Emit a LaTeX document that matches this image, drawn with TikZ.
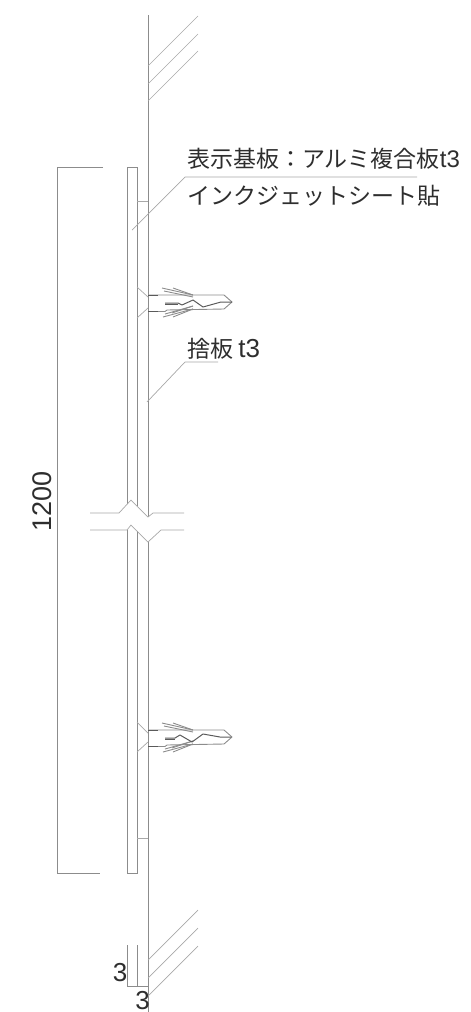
\documentclass[tikz,border=0pt]{standalone}
\usepackage{fontspec}
\setmainfont{Liberation Sans}
\newfontfamily\jpfont{Noto Sans CJK JP}
\definecolor{ln}{HTML}{8C8C8C}
\definecolor{lnd}{HTML}{5A5A5A}
\definecolor{lnl}{HTML}{A8A8A8}
\definecolor{tx}{HTML}{2E2E2E}
\tikzset{
  wallline/.style={draw=ln,line width=0.9pt},
  thinline/.style={draw=lnl,line width=0.7pt},
  hatchline/.style={draw=lnl,line width=0.7pt},
  dimline/.style={draw=ln,line width=0.7pt},
  anchorline/.style={draw=ln,line width=0.9pt,line join=round},
  anchordark/.style={draw=lnd,line width=1pt,line join=round},
  jptext/.style={anchor=base west,inner sep=0pt,text=tx,font=\jpfont\fontsize{23}{23}\selectfont},
  numtext/.style={inner sep=0pt,text=tx,font=\fontsize{27}{27}\selectfont},
  smalltext/.style={inner sep=0pt,text=tx,font=\fontsize{26}{26}\selectfont}
}
\newcommand{\anchorbody}{%
  \draw[anchorline] (148,-7) -- (224,-7) -- (232,0) -- (224,7) -- (167,8) -- (165,9.5) -- (148,9.5);
  \draw[anchordark] (148,-7) -- (158,-7);
  \draw[anchordark] (148,9) -- (158,9);
  \draw[anchorline] (162,-14) -- (193,-7);
  \draw[anchorline] (164,-11) -- (193,-5);
  \draw[anchorline] (173,-14) -- (193,-7);
  \draw[anchorline] (163,15) -- (193,7);
  \draw[anchorline] (165,12) -- (193,4);
  \draw[anchorline] (173,15) -- (193,7);
  \draw[anchorline] (172,11) -- (193,4);
}
\begin{document}
\begin{tikzpicture}[x=1pt,y=-1pt]
\useasboundingbox (0,0) rectangle (471,1012);
% wall
\draw[wallline] (148,15) -- (148,517);
\draw[wallline] (148,542) -- (148,1012);
% hatching
\foreach \a in {66,84,101}{\draw[hatchline] (148,\a) -- ++(50,-50);}
\foreach \a in {960,978,996}{\draw[hatchline] (148,\a) -- ++(50,-50);}
% panel
\draw[wallline] (127,504) -- (127,167) -- (137,167) -- (137,506);
\draw[wallline] (127,530) -- (127,873) -- (137,873) -- (137,531);
% backing plate ends
\draw[thinline] (137,201) -- (148,201);
\draw[thinline] (137,838) -- (148,838);
% break lines
\draw[thinline] (90,513) -- (119,513) -- (131,500) -- (148,517) -- (153,513) -- (184,513);
\draw[thinline] (90,530) -- (127,530) -- (131,525) -- (148,542) -- (161,530) -- (184,530);
% upper anchor
\begin{scope}[shift={(0,302)}]
  \anchorbody
  \draw[anchordark] (165,1) -- (178,1) -- (182,3) -- (193,-2) -- (203,5) -- (221,0) -- (232,0);
  \draw[anchordark] (165,2) -- (178,2);
  \draw[thinline] (137,-15) -- (148,-5);
  \draw[thinline] (137,16) -- (148,6);
\end{scope}
% lower anchor
\begin{scope}[shift={(0,737)}]
  \anchorbody
  \draw[anchordark] (165,1) -- (175,1) -- (180,-2) -- (192,5) -- (203,-3) -- (220,0) -- (231,0);
  \draw[anchordark] (165,2) -- (175,2);
  \draw[thinline] (137,-15) -- (148,-4);
  \draw[thinline] (137,15) -- (148,5);
\end{scope}
% dimension 1200
\draw[dimline] (103,167) -- (57,167) -- (57,873) -- (100,873);
\node[numtext,rotate=90] (dimlabel) at (42.5,501) {1200};
% dimension 3
\draw[dimline] (127,945) -- (127,986);
\draw[dimline] (137,945) -- (137,986);
\draw[dimline] (127,986) -- (148,986);
\node[smalltext] (dimthreea) at (120,973) {3};
\node[smalltext] (dimthreeb) at (142.5,1001) {3};
% labels
\node[jptext] (labela) at (187,167.5) {表示基板：アルミ複合板{\rmfamily\fontsize{24}{24}\selectfont t3}};
\node[jptext] (labelb) at (187,204) {インクジェットシート貼};
\node[jptext] (labelc) at (187,357) {捨板 {\rmfamily\fontsize{26}{26}\selectfont t3}};
% leaders
\coordinate (leadera) at (132,230);
\coordinate (kneea) at (185,177);
\coordinate (enda) at (417,177);
\coordinate (leaderb) at (147,402);
\coordinate (kneeb) at (185,362);
\coordinate (endb) at (218,362);
\draw[thinline] (leadera) -- (kneea) -- (enda);
\draw[thinline] (leaderb) -- (kneeb) -- (endb);
\end{tikzpicture}
\end{document}
